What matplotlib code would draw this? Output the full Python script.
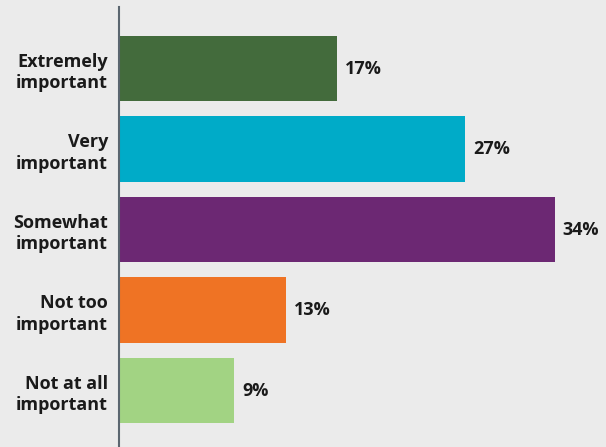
import matplotlib.pyplot as plt

categories = ['Extremely\nimportant', 'Very\nimportant', 'Somewhat\nimportant',
              'Not too\nimportant', 'Not at all\nimportant']
values = [17, 27, 34, 13, 9]
colors = ['#436b3c', '#00abc8', '#6c2873', '#ef7324', '#a2d383']

bg = '#ebebeb'
fig = plt.figure(figsize=(6.06, 4.47), dpi=100, facecolor=bg)
ax = fig.add_axes([119 / 606, 0, 1 - 119 / 606, 1 - 7 / 447])
ax.set_facecolor(bg)

pos = list(range(len(values)))
ax.barh(pos, values, height=0.81, color=colors)
ax.set_xlim(0, 38)
ax.set_ylim(4.70, -0.764)

for p, v in zip(pos, values):
    ax.text(v + 0.62, p, f'{v}%', va='center', ha='left',
            fontsize=13, fontweight='bold', family='Open Sans', color='#1a1a1a')

ax.set_yticks(pos)
ax.set_yticklabels(categories, fontsize=13, fontweight='bold', family='Open Sans',
                   color='#1a1a1a', linespacing=1.25)
ax.tick_params(axis='y', length=0, pad=8)
ax.set_xticks([])
for s in ['top', 'right', 'bottom']:
    ax.spines[s].set_visible(False)
ax.spines['left'].set_color('#5b6670')
ax.spines['left'].set_linewidth(1.5)

fig.savefig('out.png', dpi=100, facecolor=bg)
